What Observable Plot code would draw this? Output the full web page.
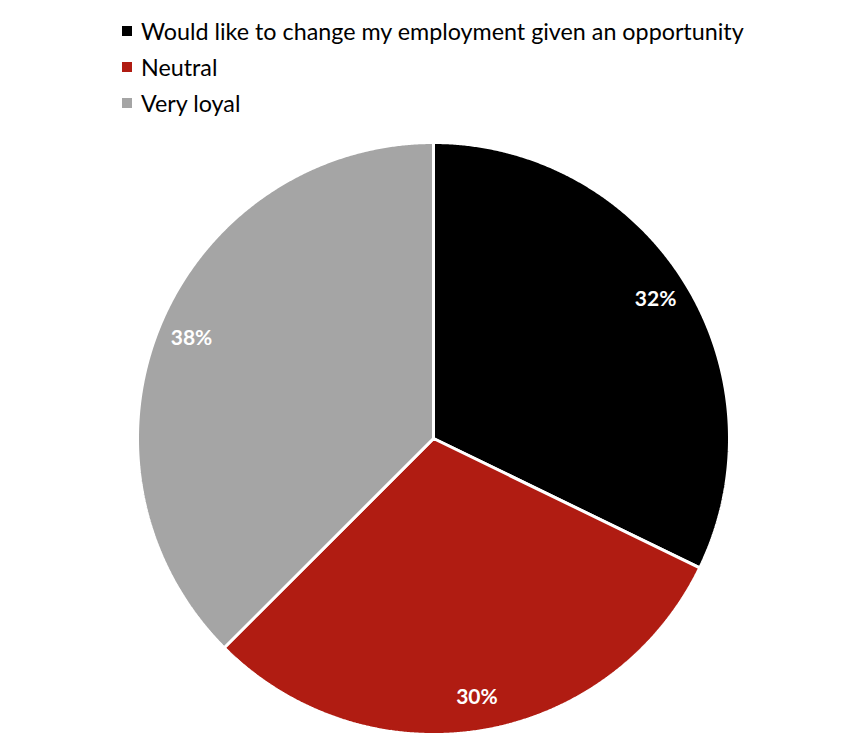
<!DOCTYPE html>
<html>
<head>
<meta charset="utf-8">
<script src="https://cdn.jsdelivr.net/npm/d3@7"></script>
<script src="https://cdn.jsdelivr.net/npm/@observablehq/plot@0.6"></script>
<style>
  html, body { margin: 0; padding: 0; background: #fff; }
  #wrap { position: relative; width: 855px; height: 736px; overflow: hidden; }
  #legend { position: absolute; left: 122px; top: 13px; font-family: Lato, "Open Sans", sans-serif; font-size: 23.3px; color: #000; }
  .row { display: flex; align-items: center; height: 36px; }
  .sw { width: 10px; height: 10px; margin-right: 9px; }
  #chart { position: absolute; left: 0; top: 0; }
</style>
</head>
<body>
<div id="wrap">
  <div id="chart"></div>
  <div id="legend"></div>
</div>
<script>
const categories = ["Would like to change my employment given an opportunity", "Neutral", "Very loyal"];
const values = [32.2, 30.3, 37.5];
const colors = ["#000000", "#B01C12", "#A5A5A5"];
const labels = ["32%", "30%", "38%"];

const W = 855, H = 736, cx = 433, cy = 438, R = 296;

const pie = d3.pie().sort(null).value(d => d.value)(categories.map((c, i) => ({category: c, value: values[i], label: labels[i]})));

const pts = [];
pie.forEach(s => {
  const n = Math.max(2, Math.ceil((s.endAngle - s.startAngle) / 0.005));
  pts.push({category: s.data.category, x: 0, y: 0});
  for (let k = 0; k <= n; k++) {
    const a = s.startAngle + (s.endAngle - s.startAngle) * k / n;
    pts.push({category: s.data.category, x: Math.sin(a), y: Math.cos(a)});
  }
  pts.push({category: s.data.category, x: 0, y: 0});
});
const labelPts = pie.map(s => {
  const a = (s.startAngle + s.endAngle) / 2;
  return {label: s.data.label, x: 0.885 * Math.sin(a), y: 0.885 * Math.cos(a)};
});

const plot = Plot.plot({
  width: W, height: H,
  margin: 0,
  x: {domain: [-cx / R, (W - cx) / R], axis: null},
  y: {domain: [-(H - cy) / R, cy / R], axis: null},
  color: {domain: categories, range: colors},
  marks: [
    Plot.line(pts, {x: "x", y: "y", z: "category", fill: "category", stroke: "white", strokeWidth: 3, strokeLinejoin: "miter", curve: "linear"}),
    Plot.text(labelPts, {x: "x", y: "y", text: "label", fill: "white", fontSize: 21, fontWeight: 700, fontFamily: "Lato"})
  ]
});
document.getElementById("chart").appendChild(plot);

const leg = document.getElementById("legend");
categories.forEach((c, i) => {
  const row = document.createElement("div");
  row.className = "row";
  row.innerHTML = `<div class="sw" style="background:${colors[i]}"></div><span>${c}</span>`;
  leg.appendChild(row);
});
</script>
</body>
</html>
